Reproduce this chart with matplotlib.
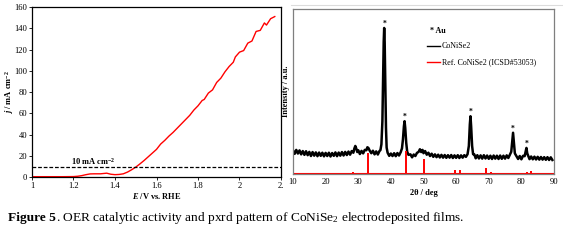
from matplotlib import pyplot as plt
from matplotlib.lines import Line2D

# OER polarisation curve (left)
potential = [1.00, 1.05, 1.10, 1.15, 1.20, 1.22, 1.24, 1.26, 1.28, 1.30, 1.33, 1.36, 1.38,
             1.40, 1.42, 1.44, 1.46, 1.48, 1.50, 1.52, 1.54, 1.56, 1.58, 1.60, 1.62, 1.64,
             1.66, 1.68, 1.70, 1.72, 1.74, 1.76, 1.78, 1.80, 1.82, 1.83, 1.85, 1.87, 1.89,
             1.91, 1.93, 1.95, 1.97, 1.98, 2.00, 2.02, 2.04, 2.06, 2.08, 2.10, 2.12, 2.13,
             2.15, 2.17]
current = [0.3, 0.3, 0.3, 0.3, 0.4, 0.7, 1.3, 2.2, 2.9, 3.0, 3.0, 3.6, 2.6,
           2.2, 2.4, 3.0, 4.6, 6.8, 9.3, 12.3, 15.5, 19.0, 22.5, 26.0, 31.0, 34.5,
           38.5, 42.0, 46.0, 50.0, 54.0, 58.0, 63.0, 67.0, 72.0, 73.0, 79.0, 82.0, 89.0,
           93.0, 99.0, 104.0, 108.0, 113.0, 117.5, 119.0, 126.0, 128.0, 137.0, 138.0, 145.0, 143.0,
           149.0, 151.0]
j_ref = 9

# PXRD pattern (right)
xrd_angle = [10.0, 10.5, 11.0, 11.5, 12.0, 12.5, 13.0, 13.5, 14.0, 14.5, 15.0, 15.5, 16.0, 16.5,
             17.0, 17.5, 18.0, 18.5, 19.0, 19.5, 20.0, 20.5, 21.0, 21.5, 22.0, 22.5, 23.0, 23.5,
             24.0, 24.5, 25.0, 25.5, 26.0, 26.5, 27.0, 27.5, 28.0, 28.5, 28.8, 29.1, 29.4, 29.7,
             30.0, 30.5, 31.0, 31.5, 32.0, 32.5, 32.8, 33.1, 33.5, 34.0, 34.5, 35.0, 35.5, 36.0,
             36.5, 36.8, 37.1, 37.4, 37.6, 37.8, 37.95, 38.1, 38.3, 38.5, 38.7, 39.0, 39.5, 40.0,
             40.5, 41.0, 41.5, 42.0, 42.5, 43.0, 43.4, 43.7, 44.0, 44.2, 44.4, 44.7, 45.0, 45.4,
             46.0, 46.5, 47.0, 47.5, 48.0, 48.5, 48.9, 49.3, 49.7, 50.0, 50.5, 51.0, 51.5, 52.0,
             52.5, 53.0, 53.5, 54.0, 54.5, 55.0, 55.5, 56.0, 56.5, 57.0, 57.5, 58.0, 58.5, 59.0,
             59.5, 60.0, 60.5, 61.0, 61.5, 62.0, 62.5, 63.0, 63.5, 63.9, 64.2, 64.4, 64.6, 64.9,
             65.2, 65.6, 66.0, 66.5, 67.0, 67.5, 68.0, 68.5, 69.0, 69.5, 70.0, 70.5, 71.0, 71.5,
             72.0, 72.5, 73.0, 73.5, 74.0, 74.5, 75.0, 75.5, 76.0, 76.5, 76.9, 77.2, 77.45, 77.7,
             78.0, 78.4, 79.0, 79.5, 80.0, 80.5, 81.0, 81.3, 81.55, 81.8, 82.2, 82.5, 83.0, 83.5,
             84.0, 84.5, 85.0, 85.5, 86.0, 86.5, 87.0, 87.5, 88.0, 88.5, 89.0, 89.5]
xrd_counts = [14.4, 12.2, 14.6, 12.4, 14.3, 11.9, 13.9, 11.6, 13.8, 11.4, 13.4, 10.9, 13.3, 11.1,
              13.1, 10.8, 13.0, 11.0, 12.9, 10.7, 12.8, 10.9, 12.9, 10.6, 12.7, 11.0, 13.1, 10.8,
              13.0, 11.1, 13.3, 11.2, 13.4, 11.5, 13.6, 11.7, 13.9, 12.9, 15.4, 17.0, 15.4, 13.3,
              14.4, 12.1, 14.0, 12.5, 14.6, 14.4, 16.2, 15.8, 14.2, 12.6, 14.1, 11.9, 13.7, 11.8,
              13.9, 14.5, 18.0, 32.0, 58.0, 80.0, 88.5, 80.0, 55.0, 28.0, 16.0, 12.9, 11.0, 12.4,
              10.9, 12.6, 10.8, 12.7, 11.2, 13.2, 15.5, 21.0, 29.0, 32.0, 28.0, 19.0, 13.5, 11.6,
              11.9, 10.1, 11.8, 10.9, 12.8, 13.4, 15.0, 13.3, 14.6, 12.6, 13.9, 11.7, 12.9, 10.9,
              12.3, 10.4, 11.9, 10.2, 11.7, 10.0, 11.6, 9.9, 11.5, 9.8, 11.4, 9.9, 11.5, 9.7,
              11.3, 9.8, 11.4, 9.7, 11.3, 9.9, 11.4, 10.4, 12.0, 17.0, 30.0, 35.0, 29.0, 17.0,
              12.0, 11.8, 9.5, 11.4, 9.4, 11.3, 9.3, 11.4, 9.4, 11.2, 9.2, 11.1, 9.1, 11.2,
              9.3, 11.1, 9.1, 11.2, 9.2, 11.1, 9.3, 11.3, 9.7, 11.8, 13.5, 20.0, 25.0, 19.0,
              12.5, 11.1, 9.1, 10.9, 8.9, 11.0, 10.8, 13.5, 15.8, 12.5, 10.5, 9.0, 10.6, 8.9,
              10.5, 8.8, 10.4, 8.7, 10.3, 8.7, 10.2, 8.6, 10.2, 8.5, 10.1, 8.5]
ref_angle = [28.3, 33.0, 44.6, 50.1, 59.8, 61.2, 69.2, 70.8, 81.8, 83.1]
ref_height = [1.2, 12.7, 13.7, 9.1, 2.6, 2.4, 3.4, 1.0, 1.0, 2.0]
au_angle = [37.95, 44.2, 64.4, 77.45, 81.55]
au_height = [91.0, 34.5, 37.5, 27.5, 18.5]

plt.rcParams['font.family'] = ['Liberation Serif', 'DejaVu Serif']
plt.rcParams['mathtext.fontset'] = 'custom'
plt.rcParams['mathtext.rm'] = 'Liberation Serif'
plt.rcParams['mathtext.it'] = 'Liberation Serif:italic:bold'
plt.rcParams['mathtext.bf'] = 'Liberation Serif:bold'

fig = plt.figure(figsize=(5.63, 2.45), dpi=100)

# ---- left: OER ----
ax1 = fig.add_axes([32/563, 68/245, 249/563, 170/245])
ax1.plot(potential, current, color='red', linewidth=1.0)
ax1.axhline(j_ref, color='black', linestyle='--', linewidth=0.9, dashes=(3, 1.5))
ax1.text(1.19, 11, '10 mA cm$^{\\mathbf{-2}}$', fontsize=6, fontweight='bold')
ax1.set_xlim(1, 2.2)
ax1.set_ylim(0, 160)
ax1.set_xticks([1, 1.2, 1.4, 1.6, 1.8, 2, 2.2])
ax1.set_xticklabels(['1', '1.2', '1.4', '1.6', '1.8', '2', '2.'])
ax1.set_yticks(range(0, 161, 20))
ax1.tick_params(labelsize=6.2, length=2, width=0.6, pad=1.5, color='black')
for s in ax1.spines.values():
    s.set_linewidth(0.9)
    s.set_color('black')
ax1.set_xlabel('$\\mathit{E}$ /V vs. RHE', fontsize=6, fontweight='bold', labelpad=1)
ax1.set_ylabel('$\\mathit{j}$ / mA cm$^{\\mathbf{-2}}$', fontsize=6, fontweight='bold', va='center')
ax1.yaxis.set_label_coords(-0.092, 0.5)

# ---- right: PXRD ----
ax2 = fig.add_axes([293/563, 71/245, 261/563, 165/245])
ax2.plot(xrd_angle, xrd_counts, color='black', linewidth=1.8)
ax2.vlines(ref_angle, 0, ref_height, color='red', linewidth=1.4)
ax2.axhline(0, color='red', linewidth=1.5)
for a, h in zip(au_angle, au_height):
    ax2.text(a, h, '*', fontsize=5.5, fontweight='bold', ha='center', va='center')
ax2.plot([51.1, 55.1], [77.6, 77.6], color='black', linewidth=1.0)
ax2.plot([51.1, 55.1], [67.9, 67.9], color='red', linewidth=1.0)
ax2.text(52.0, 86.5, '* Au', fontsize=5.8, fontweight='bold', va='center')
ax2.text(55.6, 77.6, 'CoNiSe2', fontsize=5.8, va='center')
ax2.text(55.6, 67.9, 'Ref. CoNiSe2 (ICSD#53053)', fontsize=5.8, va='center')
ax2.set_xlim(10, 90)
ax2.set_ylim(0, 100)
ax2.set_xticks(range(10, 91, 10))
ax2.set_yticks([])
ax2.tick_params(labelsize=6.2, length=0, pad=3)
for s in ax2.spines.values():
    s.set_linewidth(0.9)
    s.set_color('#7f7f7f')
ax2.set_xlabel('2θ / deg', fontsize=6, fontweight='bold', labelpad=2)
ax2.set_ylabel('Intensity / a.u.', fontsize=6, fontweight='bold', labelpad=2)

fig.add_artist(Line2D([291/563, 1.0], [240/245, 240/245], color='#dcdcdc', linewidth=0.8))

# ---- caption ----
t1 = fig.text(8/563, 27/245, 'Figure 5', fontsize=9.6, fontweight='bold', va='center')
fig.canvas.draw()
bb = t1.get_window_extent().transformed(fig.transFigure.inverted())
fig.text(bb.x1, 27/245, '. OER catalytic activity and pxrd pattern of CoNiSe$_2$ electrodeposited films.',
         fontsize=9.6, va='center')

plt.savefig('out.png', dpi=100)
